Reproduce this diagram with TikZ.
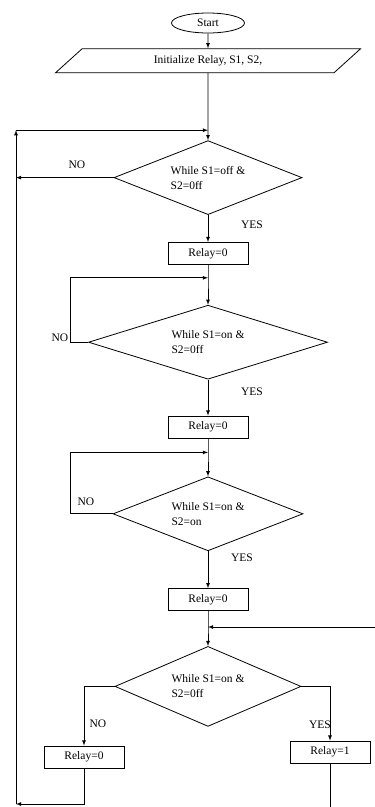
\documentclass[tikz,border=0pt]{standalone}
\usepackage{fontspec}
\setmainfont{Liberation Serif}
\usetikzlibrary{shapes.geometric}
\usetikzlibrary{calc, positioning}

\begin{document}
\begin{tikzpicture}[x=1pt, y=1pt, line width=0.8pt, > = latex,
    font=\fontsize{11.5}{15}\selectfont]
    \tikzset{
      my start/.style={
        ellipse, draw, minimum width=73pt, minimum height=20pt, inner sep=0pt
      },
      my input/.style={
        trapezium, draw, trapezium left angle=21.5, trapezium right angle=158.5,
        trapezium stretches body, minimum width=305pt, minimum height=24pt,
        inner sep=0pt
      },
      my decision/.style={
        diamond, draw, aspect=2.5, inner sep=0pt, align=left,
        minimum width=#1, minimum height=74pt
      },
      my box/.style={
        rectangle, draw, minimum width=80pt, minimum height=22pt, inner sep=0pt
      },
    }
    \useasboundingbox (0,0) rectangle (375,-807);

    % Main column
    \node (start) [my start] at (208,-23) {Start};
    \node (init) [my input, below=15pt of start] {Initialize Relay, S1, S2,};
    \node (d1) [my decision=188pt, below=67pt of init] {While S1=off \&\\S2=0ff};
    \node (box1) [my box, below=27pt of d1] {Relay=0};
    \node (d2) [my decision=239pt, below=40pt of box1] {While S1=on \&\\S2=0ff};
    \node (box2) [my box, below=36pt of d2] {Relay=0};
    \node (d3) [my decision=190pt, below=38pt of box2] {While S1=on \&\\S2=on};
    \node (box3) [my box, below=37pt of d3] {Relay=0};
    \node (d4) [my decision=186pt, minimum height=80pt, below=35pt of box3]
      {While S1=on \&\\S2=0ff};
    \node (box4) [my box] at (84,-757) {Relay=0};
    \node (box5) [my box] at (330,-752) {Relay=1};

    % Labels
    \node (no1) at (77,-165) {NO};
    \node (yes1) at (252,-225) {YES};
    \node (no2) at (60,-338) {NO};
    \node (yes2) at (252,-392) {YES};
    \node (no3) at (86,-502) {NO};
    \node (yes3) at (242,-558) {YES};
    \node (no4) at (98,-724) {NO};
    \node (yes4) at (320,-725) {YES};

    % Junctions and loop corners
    \coordinate (j1) at ($(d1.north)+(0,10)$);
    \coordinate (j2) at ($(d2.north)+(0,27)$);
    \coordinate (j3) at ($(d3.north)+(0,24)$);
    \coordinate (j4) at ($(d4.north)+(0,19)$);
    \coordinate (outerx) at (16,0);
    \coordinate (innerx) at (70,0);
    \coordinate (rightx) at (375,0);
    \coordinate (bottomedge) at (0,-807);
    \coordinate (looptop) at (j1 -| outerx);
    \coordinate (loopbot) at ($(outerx)+(0,-804)$);
    \coordinate (loop2) at (j2 -| innerx);
    \coordinate (loop3) at (j3 -| innerx);
    \coordinate (rightedge) at (j4 -| rightx);

    % Arrows
    \foreach \from/\to in {start/init, d1/box1, d2/box2, d3/box3}
      \draw[->] (\from) -- (\to);
    \foreach \from/\j/\to in {init/j1/d1, box1/j2/d2, box2/j3/d3, box3/j4/d4}
      \draw[->] (\from) -- (\j) -- (\to);

    \draw[->] (d1.west) -- (d1.west -| looptop);
    \draw[->] (d2.west) -| (loop2) -- (j2);
    \draw[->] (d3.west) -| (loop3) -- (j3);
    \draw[->] (rightedge) -- (j4);
    \draw[->] (d4.west) -| (box4.north);
    \draw[->] (d4.east) -| (box5.north);
    \draw (box5.south) -- (box5.south |- bottomedge);

    % Outer loop back to the top
    \draw[->] (box4.south) |- (loopbot);
    \draw[->] (loopbot) -- (looptop);
    \draw[->] (looptop) -- (j1);

  \end{tikzpicture}
\end{document}
